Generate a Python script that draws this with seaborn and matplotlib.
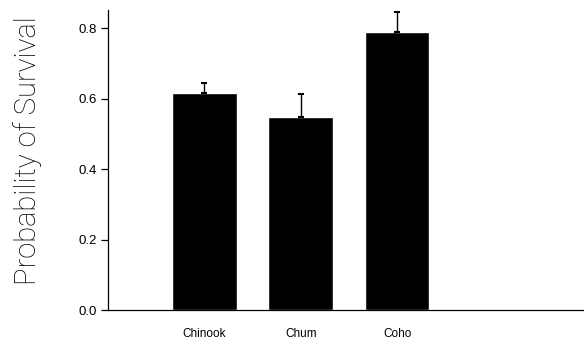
import matplotlib
matplotlib.use("Agg")
import matplotlib.pyplot as plt
import seaborn as sns
import numpy as np
import pandas as pd

# survival estimates
species = ["Chinook", "Chum", "Coho"]
survival = [0.615, 0.548, 0.790]
upper_se = [0.030, 0.066, 0.055]

df = pd.DataFrame({"species": species, "survival": survival})

sns.set_theme(style="ticks")
plt.rcParams["font.family"] = ["Liberation Sans", "DejaVu Sans"]

fig = plt.figure(figsize=(5.84, 3.45), dpi=100)
ax = fig.add_axes([0.185, 0.101, 0.815, 0.870])

sns.barplot(data=df, x="species", y="survival", order=species, color="black",
            width=0.67, errorbar=None, saturation=1, ax=ax)
ax.errorbar(np.arange(len(species)), survival,
            yerr=[np.zeros(len(species)), upper_se],
            fmt="none", ecolor="black", elinewidth=1.0, capsize=2.5, capthick=1.5)

ax.set_xlim(-1.0, 3.94)
ax.set_ylim(0, 0.852)
ax.set_yticks([0.0, 0.2, 0.4, 0.6, 0.8])
ax.set_yticklabels(["0.0", "0.2", "0.4", "0.6", "0.8"])
ax.tick_params(axis="y", labelsize=9.5, length=5, width=0.9, direction="out", pad=3, colors="black")
ax.tick_params(axis="x", labelsize=8.5, length=0, pad=13, colors="black")
ax.set_xlabel("")
ax.set_ylabel("Probability of Survival", fontsize=21, fontweight="light", color="black",
              family=["Roboto", "DejaVu Sans"], labelpad=26, y=0.53)

for s in ["top", "right"]:
    ax.spines[s].set_visible(False)
for s in ["left", "bottom"]:
    ax.spines[s].set_linewidth(0.9)
    ax.spines[s].set_color("black")

fig.savefig("out.png", dpi=100)
